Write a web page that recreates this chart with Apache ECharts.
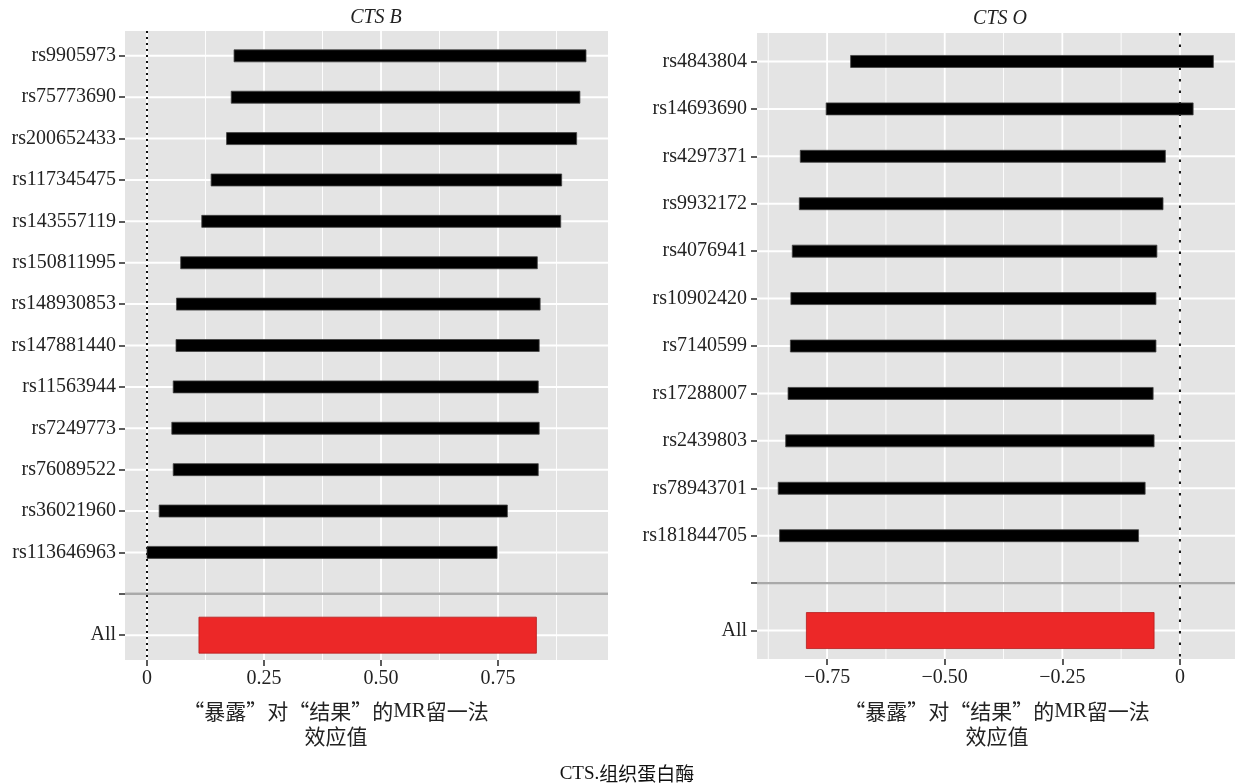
<!DOCTYPE html>
<html>
<head>
<meta charset="utf-8">
<title>CTS leave-one-out</title>
<script src="https://cdn.jsdelivr.net/npm/echarts@6/dist/echarts.min.js"></script>
<style>
  html, body { margin: 0; padding: 0; background: #ffffff; }
  #chart { width: 1235px; height: 784px; }
</style>
</head>
<body>
<div id="chart"></div>
<script>
// CTS B 留一法: SNP 名称, 下限, 上限 (从上到下)
var snpB = ['rs9905973', 'rs75773690', 'rs200652433', 'rs117345475', 'rs143557119', 'rs150811995',
  'rs148930853', 'rs147881440', 'rs11563944', 'rs7249773', 'rs76089522', 'rs36021960', 'rs113646963'];
var lowB = [0.186, 0.180, 0.170, 0.137, 0.117, 0.072, 0.063, 0.062, 0.056, 0.053, 0.056, 0.026, 0.000];
var highB = [0.938, 0.925, 0.918, 0.886, 0.884, 0.834, 0.840, 0.838, 0.836, 0.838, 0.836, 0.770, 0.748];
var allB = [0.111, 0.832];

// CTS O
var snpO = ['rs4843804', 'rs14693690', 'rs4297371', 'rs9932172', 'rs4076941', 'rs10902420',
  'rs7140599', 'rs17288007', 'rs2439803', 'rs78943701', 'rs181844705'];
var lowO = [-0.700, -0.752, -0.807, -0.809, -0.824, -0.827, -0.828, -0.833, -0.838, -0.854, -0.851];
var highO = [0.071, 0.028, -0.031, -0.036, -0.049, -0.051, -0.051, -0.057, -0.055, -0.074, -0.088];
var allO = [-0.794, -0.055];

// x 轴刻度
var xTicksB = [0, 0.25, 0.5, 0.75];
var xLabelsB = ['0', '0.25', '0.50', '0.75'];
var xMinorB = [0.125, 0.375, 0.625, 0.875];
var xTicksO = [-0.75, -0.5, -0.25, 0];
var xLabelsO = ['\u22120.75', '\u22120.50', '\u22120.25', '0'];
var xMinorO = [-0.875, -0.625, -0.375, -0.125, 0.125];

var serif = '"Liberation Serif", "DejaVu Serif", serif';
var cjk = '"Noto Sans CJK SC", sans-serif';

// y 标签: SNP + 空行 + All
var rowsB = snpB.concat(['', 'All']);
var rowsO = snpO.concat(['', 'All']);
function idx(arr) { return arr.map(function (d, i) { return i; }); }

var chart = echarts.init(document.getElementById('chart'));

function barRender(thick, color, stroke) {
  return function (params, api) {
    var p0 = api.coord([api.value(0), api.value(2)]);
    var p1 = api.coord([api.value(1), api.value(2)]);
    return {
      type: 'rect',
      shape: { x: p0[0], y: p0[1] - thick / 2, width: p1[0] - p0[0], height: thick },
      style: { fill: color, stroke: stroke, lineWidth: 0.8 }
    };
  };
}
function vLine(width, color, dash) {
  return function (params, api) {
    var cs = params.coordSys;
    var x = api.coord([api.value(0), 0])[0];
    return {
      type: 'line',
      shape: { x1: x, y1: cs.y, x2: x, y2: cs.y + cs.height },
      style: { stroke: color, lineWidth: width, lineDash: dash || null }
    };
  };
}
function hLine(width, color) {
  return function (params, api) {
    var cs = params.coordSys;
    var y = api.coord([0, api.value(0)])[1];
    return {
      type: 'line',
      shape: { x1: cs.x, y1: y, x2: cs.x + cs.width, y2: y },
      style: { stroke: color, lineWidth: width }
    };
  };
}

function snpData(lo, hi) {
  return lo.map(function (v, i) { return [v, hi[i], i]; });
}

function xAxisOpt(gi, min, max, ticks, labels) {
  return {
    type: 'value', gridIndex: gi, min: min, max: max,
    axisLine: { show: true, onZero: false, lineStyle: { color: '#333', opacity: 0 } },
    splitLine: { show: false },
    axisTick: { show: true, length: 6, customValues: ticks, lineStyle: { color: '#333', width: 1.6, opacity: 1 } },
    axisLabel: {
      customValues: ticks, margin: 9, color: '#222', fontFamily: serif, fontSize: 20,
      formatter: function (v) { var k = ticks.indexOf(v); return k >= 0 ? labels[k] : ''; }
    }
  };
}
function yAxisOpt(gi, rows, margin) {
  return {
    type: 'value', gridIndex: gi, inverse: true, min: -0.6, max: rows.length - 0.4,
    axisLine: { show: true, onZero: false, lineStyle: { color: '#333', opacity: 0 } },
    splitLine: { show: false },
    axisTick: { show: true, length: 6, customValues: idx(rows), lineStyle: { color: '#333', width: 1.6, opacity: 1 } },
    axisLabel: {
      customValues: idx(rows), margin: margin, color: '#222', fontFamily: serif, fontSize: 20,
      formatter: function (v) { return rows[Math.round(v)]; }
    }
  };
}

function panelSeries(gi, rows, ticks, minor, lo, hi, all, dash) {
  var blank = rows.length - 2;
  return [
    { type: 'custom', xAxisIndex: gi, yAxisIndex: gi, z: 1, silent: true,
      renderItem: vLine(0.9, '#ffffff'), data: minor.map(function (v) { return [v]; }), encode: { x: 0 } },
    { type: 'custom', xAxisIndex: gi, yAxisIndex: gi, z: 1, silent: true,
      renderItem: vLine(1.8, '#ffffff'), data: ticks.map(function (v) { return [v]; }), encode: { x: 0 } },
    { type: 'custom', xAxisIndex: gi, yAxisIndex: gi, z: 1, silent: true,
      renderItem: hLine(2, '#ffffff'), data: idx(rows).map(function (v) { return [v]; }), encode: { y: 0 } },
    { type: 'custom', xAxisIndex: gi, yAxisIndex: gi, z: 2, silent: true,
      renderItem: hLine(2.4, '#a9a9a9'), data: [[blank]], encode: { y: 0 } },
    { type: 'custom', xAxisIndex: gi, yAxisIndex: gi, z: 2, silent: true,
      renderItem: vLine(2, '#111', dash), data: [[0]], encode: { x: 0 } },
    { type: 'custom', xAxisIndex: gi, yAxisIndex: gi, z: 3, name: 'snp',
      renderItem: barRender(12, '#000000', '#444'), data: snpData(lo, hi), encode: { x: [0, 1], y: 2 } },
    { type: 'custom', xAxisIndex: gi, yAxisIndex: gi, z: 3, name: 'All',
      renderItem: barRender(36, '#ec2828', '#b51d1d'), data: [[all[0], all[1], rows.length - 1]], encode: { x: [0, 1], y: 2 } }
  ];
}

chart.setOption({
  backgroundColor: '#ffffff',
  animation: false,
  grid: [
    { left: 125, top: 31, width: 483, height: 629, show: true, backgroundColor: '#e4e4e4', borderWidth: 0 },
    { left: 757, top: 33, width: 482, height: 626, show: true, backgroundColor: '#e4e4e4', borderWidth: 0 }
  ],
  xAxis: [
    xAxisOpt(0, -0.047, 0.985, xTicksB, xLabelsB),
    xAxisOpt(1, -0.899, 0.117, xTicksO, xLabelsO)
  ],
  yAxis: [
    yAxisOpt(0, rowsB, 9),
    yAxisOpt(1, rowsO, 10)
  ],
  series: panelSeries(0, rowsB, xTicksB, xMinorB, lowB, highB, allB, [2, 4])
    .concat(panelSeries(1, rowsO, xTicksO, xMinorO, lowO, highO, allO, [2.5, 9])),
  graphic: [
    { type: 'text', x: 376, y: 18, style: { text: 'CTS B', fontFamily: serif, fontStyle: 'italic', fontSize: 20, fill: '#222', align: 'center', verticalAlign: 'middle' } },
    { type: 'text', x: 1000, y: 19, style: { text: 'CTS O', fontFamily: serif, fontStyle: 'italic', fontSize: 20, fill: '#222', align: 'center', verticalAlign: 'middle' } },
    { type: 'text', x: 336, y: 724, style: {
        text: '{a|“暴露”对“结果”的}{b|MR}{a|留一法}\n{a|效应值}', align: 'center', verticalAlign: 'middle', fill: '#222',
        rich: { a: { fontFamily: cjk, fontSize: 21, lineHeight: 25, fill: '#222' }, b: { fontFamily: serif, fontSize: 21, lineHeight: 25, fill: '#222' } } } },
    { type: 'text', x: 997, y: 724, style: {
        text: '{a|“暴露”对“结果”的}{b|MR}{a|留一法}\n{a|效应值}', align: 'center', verticalAlign: 'middle', fill: '#222',
        rich: { a: { fontFamily: cjk, fontSize: 21, lineHeight: 25, fill: '#222' }, b: { fontFamily: serif, fontSize: 21, lineHeight: 25, fill: '#222' } } } },
    { type: 'text', x: 627, y: 774, style: {
        text: '{b|CTS.}{a|组织蛋白酶}', align: 'center', verticalAlign: 'middle',
        rich: { a: { fontFamily: cjk, fontSize: 19, fill: '#111' }, b: { fontFamily: serif, fontSize: 19, fill: '#111' } } } }
  ]
});
</script>
</body>
</html>
